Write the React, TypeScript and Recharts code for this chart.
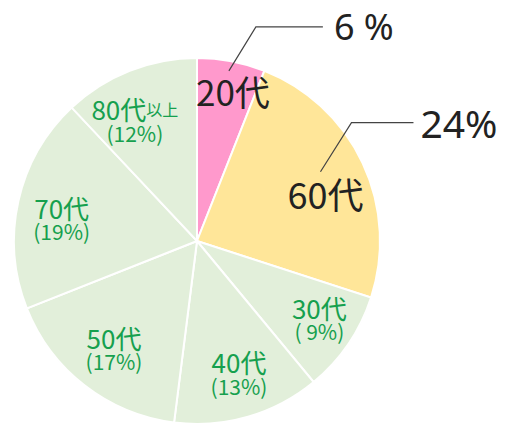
// @ts-nocheck
import { PieChart, Pie, Cell } from 'recharts'

const ages = ['20代', '60代', '30代', '40代', '50代', '70代', '80代']
const shares = [6, 24, 9, 13, 17, 19, 12]
const sliceColors = ['#FF99CC', '#FFE699', '#E2EFDA', '#E2EFDA', '#E2EFDA', '#E2EFDA', '#E2EFDA']

const data = ages.map((name, i) => ({ name, value: shares[i] }))

// small nudges for the inside labels: [angle shift, radius factor]
const labelTweak = [null, null, [2, 0.79], [1.5, 0.755], [0, 0.74], [3, 0.75], [5.5, 0.745]]

const RAD = Math.PI / 180
const GREEN = '#16A04E'
const FONT = '"Noto Sans CJK JP", "Noto Sans", sans-serif'
const NUM_FONT = '"Noto Sans", "Noto Sans CJK JP", sans-serif'

function polar(cx, cy, r, angle) {
  return [cx + r * Math.cos(-angle * RAD), cy + r * Math.sin(-angle * RAD)]
}

function renderLabel(props) {
  const { cx, cy, midAngle, outerRadius, index, value, name } = props
  if (index === 0) {
    const [sx, sy] = polar(cx, cy, outerRadius * 0.93, midAngle)
    return (
      <g>
        <polyline points={`${sx},${sy - 3} ${sx + 27},${sy - 47} ${sx + 94},${sy - 47}`} fill="none" stroke="#444" strokeWidth={1.2} />
        <text x={cx - 1} y={sy + 32} fill="#222" fontSize={35} fontFamily={FONT} textAnchor="start">{name}</text>
        <text x={sx + 105} y={sy - 34} fill="#222" fontSize={36} fontFamily={NUM_FONT} textAnchor="start">{value} %</text>
      </g>
    )
  }
  if (index === 1) {
    const [lx, ly] = polar(cx, cy, outerRadius * 0.75, midAngle - 4.6)
    return (
      <g>
        <polyline points={`${lx - 5},${ly - 21} ${lx + 26},${ly - 70} ${lx + 88},${ly - 70}`} fill="none" stroke="#444" strokeWidth={1.2} />
        <text x={lx} y={ly} fill="#222" fontSize={36} fontFamily={FONT} textAnchor="middle" dominantBaseline="central">{name}</text>
        <text x={lx + 95} y={ly - 70} fill="#222" fontSize={39} fontFamily={NUM_FONT} textAnchor="start" dominantBaseline="central">{value}%</text>
      </g>
    )
  }
  const [da, k] = labelTweak[index]
  const [x, y] = polar(cx, cy, outerRadius * k, midAngle + da)
  const pct = value < 10 ? `( ${value}%)` : `(${value}%)`
  return (
    <g>
      <text x={x} y={y - 11} fill={GREEN} fontSize={26} fontFamily={FONT} textAnchor="middle" dominantBaseline="central">
        {name}
        {index === 6 && <tspan fontSize={16}>以上</tspan>}
      </text>
      <text x={x} y={y + 13} fill={GREEN} fontSize={21} fontFamily={FONT} textAnchor="middle" dominantBaseline="central">{pct}</text>
    </g>
  )
}

export default function App() {
  return (
    <div style={{ position: 'absolute', left: 0, top: 0, width: 506, height: 425, background: '#fff' }}>
      <PieChart width={506} height={425} margin={{ top: 0, right: 0, bottom: 0, left: 0 }}>
        <Pie
          data={data}
          dataKey="value"
          nameKey="name"
          cx={197}
          cy={241}
          outerRadius={183}
          startAngle={90}
          endAngle={-270}
          stroke="#fff"
          strokeWidth={2}
          label={renderLabel}
          labelLine={false}
          isAnimationActive={false}
        >
          {data.map((d, i) => (
            <Cell key={d.name} fill={sliceColors[i]} />
          ))}
        </Pie>
      </PieChart>
    </div>
  )
}
